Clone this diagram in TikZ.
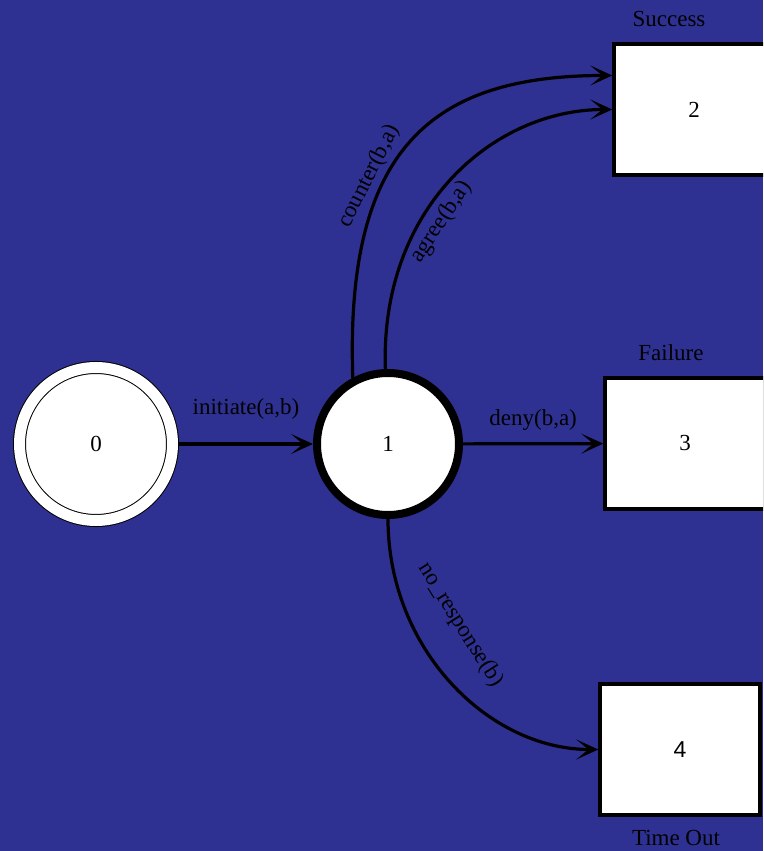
\documentclass[tikz,border=0pt]{standalone}
\usepackage{fontspec}
\setmainfont{Liberation Serif}
\setsansfont{Liberation Sans}
\definecolor{NightBlue}{RGB}{46,49,146}
\usetikzlibrary{positioning,arrows.meta,calc}
\tikzset{>={Stealth[length=22pt,width=20pt,inset=12pt]}}
\tikzset{every node/.style={font=\fontsize{23}{27}\selectfont}}
\tikzset{initstate/.style={circle,draw,fill=white,line width=1pt,double,double distance=11pt,minimum size=153pt,inner sep=0pt,outer sep=6.5pt}}
\tikzset{waitstate/.style={circle,draw,fill=white,line width=8pt,minimum size=142pt,inner sep=0pt}}
\tikzset{outcome/.style={rectangle,draw,fill=white,line width=3.4pt,minimum width=160pt,minimum height=131pt,inner sep=0pt}}
\tikzset{myedges/.style={line width=3.2pt}}

\begin{document}
\begin{tikzpicture}[x=1pt,y=1pt]

    % page background
    \fill[NightBlue] (0,0) rectangle (763,851);
    \useasboundingbox (0,0) rectangle (763,851);
    \clip (0,0) rectangle (763,851);

    % states
    \node[initstate] (s0) at (96,407)  {0};
    \node[waitstate] (s1) at (388,407) {1};
    \node[outcome, label={[label distance=12pt, xshift=-25pt]above:Success}] (s2) at (694,741.5) {2};
    \node[outcome, label={[label distance=12pt, xshift=-14pt]above:Failure}] (s3) at (685,407.5) {3};
    \node[outcome, label={[label distance=10pt, xshift=-4pt]below:Time Out}] (s4) at (680,101.5) {\sffamily 4};

    % transitions
    \path[myedges,->] (s0) edge node[above=20pt] {initiate(a,b)} (s1);
    \path[myedges,->] (s1) edge node[above=8pt] {deny(b,a)} (s3);
    \path[myedges,->] (s1.118) edge[out=92, in=180, out distance=230pt, in distance=180pt]
        node[pos=.37, sloped, above] {counter(b,a)} ([yshift=34pt]s2.west);
    \path[myedges,->] (s1.92) edge[out=92, in=180, out distance=160pt, in distance=120pt]
        node[pos=.39, sloped, below=3pt] {agree(b,a)} (s2.west);
    \path[myedges,->] (s1.south) edge[out=270, in=180, out distance=130pt, in distance=110pt]
        node[pos=.37, sloped, above=27pt] {no\_response(b)} (s4.west);

\end{tikzpicture}
\end{document}
